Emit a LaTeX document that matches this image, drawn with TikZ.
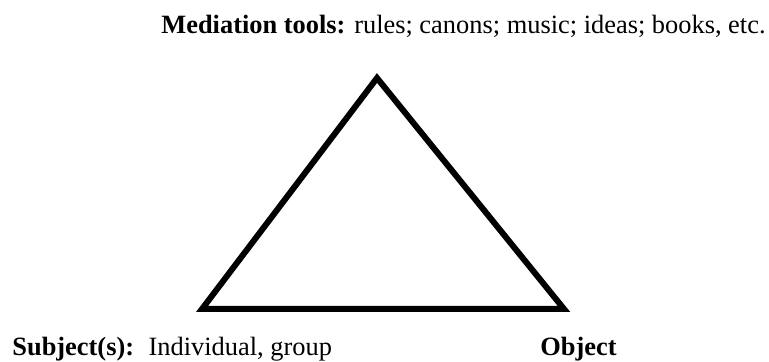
\documentclass[tikz,border=0pt]{standalone}
\usepackage{fontspec}
\setmainfont{Liberation Serif}
\usetikzlibrary{positioning}

\begin{document}
\begin{tikzpicture}[
    x=0.5pt, y=-0.5pt,
    every node/.style={font=\fontsize{13.2}{15}\selectfont},
    lbl/.style={anchor=base west, inner sep=0pt},
    edge/.style={draw, line width=3pt, line join=miter},
  ]
  \useasboundingbox (0,0) rectangle (769,362);
  %% ---- Corners ----
  \coordinate (tool) at (377, 78);
  \coordinate (subj) at (202, 309);
  \coordinate (obj)  at (564, 309);
  %% ---- Labels ----
  \node[lbl] (toollbl) at (161, 34)
    {\textbf{Mediation tools:} rules; canons; music; ideas; books, etc.};
  \node[lbl] (subjlbl) at (12, 356)
    {\textbf{Subject(s):}\hspace{0.55em}Individual, group};
  \node[lbl] (objlbl) at (540, 356) {\textbf{Object}};
  %% ---- Triangle ----
  \draw[edge] (tool) -- (subj) -- (obj) -- cycle;
\end{tikzpicture}
\end{document}
